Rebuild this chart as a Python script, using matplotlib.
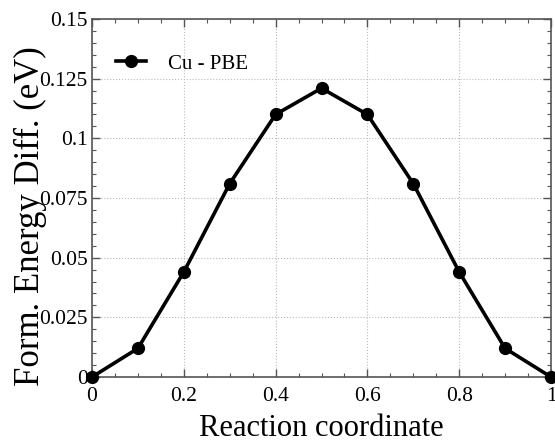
import numpy as np
import matplotlib
matplotlib.use("Agg")
import matplotlib.pyplot as plt
from matplotlib.ticker import MultipleLocator, FuncFormatter

# reaction path data
coord = [0.0, 0.1, 0.2, 0.3, 0.4, 0.5, 0.6, 0.7, 0.8, 0.9, 1.0]
energy = [0.0, 0.012, 0.044, 0.081, 0.110, 0.121, 0.110, 0.081, 0.044, 0.012, 0.0]
series_label = "Cu - PBE"

plt.rcParams['font.family'] = ['Liberation Serif', 'DejaVu Serif']

fig = plt.figure(figsize=(5.55, 4.46), dpi=100)
ax = fig.add_axes([92/555, 1 - 377/446, (551-92)/555, (377-19)/446])

ax.plot(coord, energy, color='black', lw=2.6, marker='o', ms=8.5, label=series_label,
        clip_on=False, zorder=3)

ax.set_xlim(0, 1)
ax.set_ylim(0, 0.15)
ax.xaxis.set_major_locator(MultipleLocator(0.2))
ax.xaxis.set_minor_locator(MultipleLocator(0.05))
ax.yaxis.set_major_locator(MultipleLocator(0.025))
ax.yaxis.set_minor_locator(MultipleLocator(0.005))
fmt = FuncFormatter(lambda v, p: f"{v:g}")
ax.xaxis.set_major_formatter(fmt)
ax.yaxis.set_major_formatter(fmt)

ax.tick_params(which='both', direction='in', top=True, right=True, color='#555555',
               labelsize=15.5)
ax.tick_params(which='major', length=6, width=1)
ax.tick_params(which='minor', length=3, width=0.8)
ax.tick_params(axis='x', pad=7)
ax.tick_params(axis='y', pad=3)
for s in ax.spines.values():
    s.set_color('#555555')
    s.set_linewidth(1.2)

ax.grid(True, which='major', color='#bbbbbb', linestyle=':', linewidth=0.8)
ax.set_axisbelow(True)

ax.set_xlabel("Reaction coordinate", fontsize=22, labelpad=6)
ax.set_ylabel("Form. Energy Diff. (eV)", fontsize=25)
# label sits a little below the axes centre in the original
ax.yaxis.set_label_coords(-0.098, 0.45)

ax.legend(loc='center left', bbox_to_anchor=(0.035, 0.875), frameon=False,
          fontsize=15, handlelength=1.4, handletextpad=1.1, borderaxespad=0)

fig.savefig("out.png", dpi=100)
